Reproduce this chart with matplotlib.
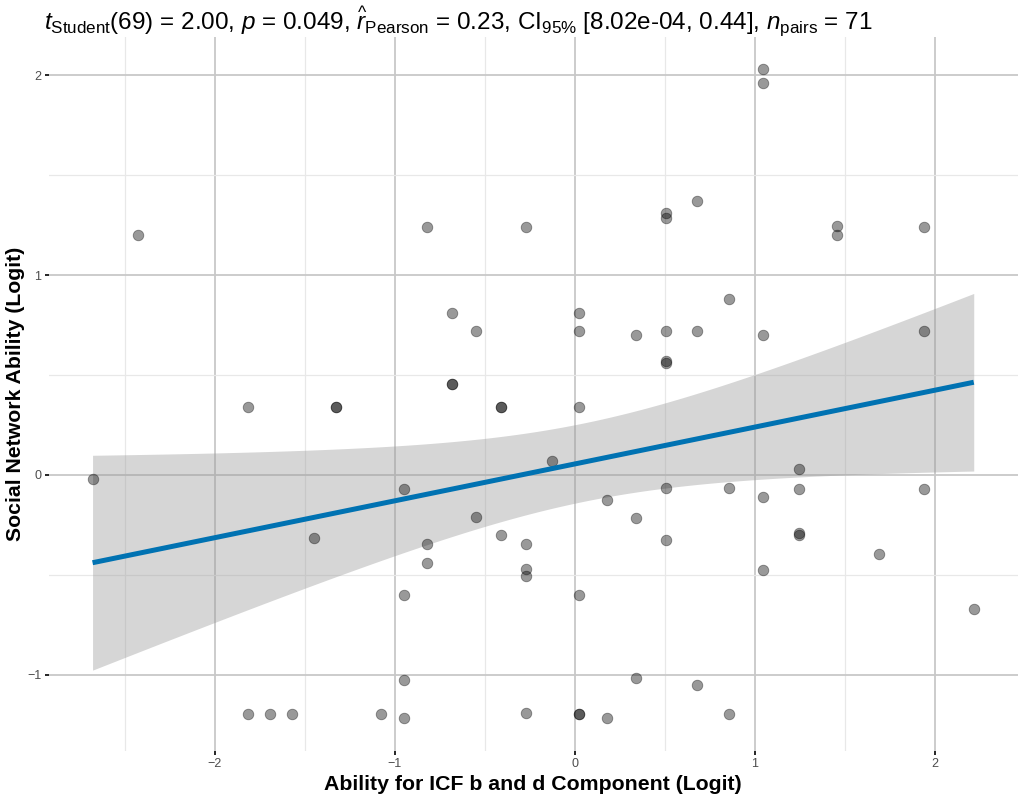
import numpy as np
import matplotlib
matplotlib.use("Agg")
import matplotlib.pyplot as plt
from matplotlib.ticker import MultipleLocator

# values
ability_icf = [
    -2.43, -0.82, -0.27, -0.685, -0.55, -0.685, -0.685, -1.33, -1.33, -0.41,
    -0.41, -1.815, 1.046, 1.046, 0.504, 0.504, 0.676, 1.457, 1.457, 1.937,
    0.856, 0.024, 0.024, 0.339, 0.504, 0.676, 1.046, 0.504, 0.504, 1.937,
    0.024, -2.68, -0.948, -0.55, -1.45, -0.82, -0.41, -0.27, -0.82, -0.27,
    -0.27, -0.948, -0.948, -1.815, -1.694, -1.572, -1.078, -0.948, -0.27, -0.126,
    1.246, 0.504, 0.856, 1.046, 1.246, 1.937, 0.178, 0.339, 0.504, 1.246,
    1.246, 1.687, 1.046, 0.024, 2.215, 0.339, 0.676, 0.024, 0.024, 0.178,
    0.856,
]
social_network = [
    1.20, 1.24, 1.24, 0.81, 0.72, 0.456, 0.456, 0.34, 0.34, 0.34,
    0.34, 0.34, 2.03, 1.96, 1.31, 1.285, 1.37, 1.245, 1.20, 1.24,
    0.88, 0.81, 0.72, 0.70, 0.72, 0.72, 0.70, 0.57, 0.558, 0.72,
    0.34, -0.02, -0.07, -0.21, -0.315, -0.345, -0.30, -0.345, -0.44, -0.47,
    -0.505, -0.60, -1.025, -1.197, -1.197, -1.197, -1.197, -1.217, -1.19, 0.068,
    0.03, -0.067, -0.067, -0.108, -0.068, -0.068, -0.123, -0.213, -0.327, -0.29,
    -0.30, -0.397, -0.474, -0.60, -0.668, -1.013, -1.05, -1.197, -1.197, -1.217,
    -1.197,
]
title_text = (r"$t_{\mathrm{Student}}$(69) = 2.00, $p$ = 0.049, "
              r"$\widehat{r}_{\mathrm{Pearson}}$ = 0.23, "
              r"CI$_{\mathrm{95\%}}$ [8.02e-04, 0.44], $n_{\mathrm{pairs}}$ = 71")
x_label = "Ability for ICF b and d Component (Logit)"
y_label = "Social Network Ability (Logit)"

plt.rcParams['font.family'] = ['Liberation Sans', 'DejaVu Sans']
plt.rcParams['mathtext.fontset'] = 'custom'
plt.rcParams['mathtext.rm'] = 'Liberation Sans'
plt.rcParams['mathtext.it'] = 'Liberation Sans:italic'
plt.rcParams['mathtext.bf'] = 'Liberation Sans:bold'

x = np.array(ability_icf)
y = np.array(social_network)
n = len(x)

# linear fit + 95% confidence band
slope, intercept = np.polyfit(x, y, 1)
resid = y - (slope * x + intercept)
s_err = np.sqrt(np.sum(resid ** 2) / (n - 2))
t_crit = 1.9949  # t(0.975, df=69)
xs = np.linspace(x.min(), x.max(), 200)
ys = slope * xs + intercept
se = s_err * np.sqrt(1 / n + (xs - x.mean()) ** 2 / np.sum((x - x.mean()) ** 2))

fig = plt.figure(figsize=(10.21, 8), dpi=100)
ax = fig.add_axes([48.5 / 1021, 49.2 / 800, 969.3 / 1021, 714.2 / 800])

ax.fill_between(xs, ys - t_crit * se, ys + t_crit * se, color='#999999',
                alpha=0.4, linewidth=0, zorder=2)
ax.scatter(x, y, s=58, color='black', alpha=0.4, edgecolors='black',
           linewidths=0.6, zorder=3)
ax.plot(xs, ys, color='#0072B2', linewidth=3.6, zorder=4, solid_capstyle='butt')

xpad = 0.05 * (x.max() - x.min())
ypad = 0.05 * (y.max() - y.min())
ax.set_xlim(x.min() - xpad, x.max() + xpad)
ax.set_ylim(y.min() - ypad, y.max() + ypad)

ax.xaxis.set_major_locator(MultipleLocator(1))
ax.yaxis.set_major_locator(MultipleLocator(1))
ax.xaxis.set_minor_locator(MultipleLocator(0.5))
ax.yaxis.set_minor_locator(MultipleLocator(0.5))
ax.grid(which='major', color='#C8C8C8', linewidth=1.3, zorder=0)
ax.grid(which='minor', color='#E8E8E8', linewidth=0.9, zorder=0)
ax.set_axisbelow(True)
for sp in ax.spines.values():
    sp.set_visible(False)
ax.tick_params(which='major', length=3, width=1.2, color='black',
               labelsize=9, labelcolor='#4D4D4D', pad=2)
ax.tick_params(which='minor', length=0)

ax.set_xlabel(x_label, fontsize=15.3, fontweight='bold', labelpad=4)
ax.set_ylabel(y_label, fontsize=15.3, fontweight='bold', labelpad=2)
fig.text(44 / 1021, 1 - 29 / 800, title_text, fontsize=17.5, ha='left', va='baseline')

fig.savefig("out.png", dpi=100, facecolor='white')
